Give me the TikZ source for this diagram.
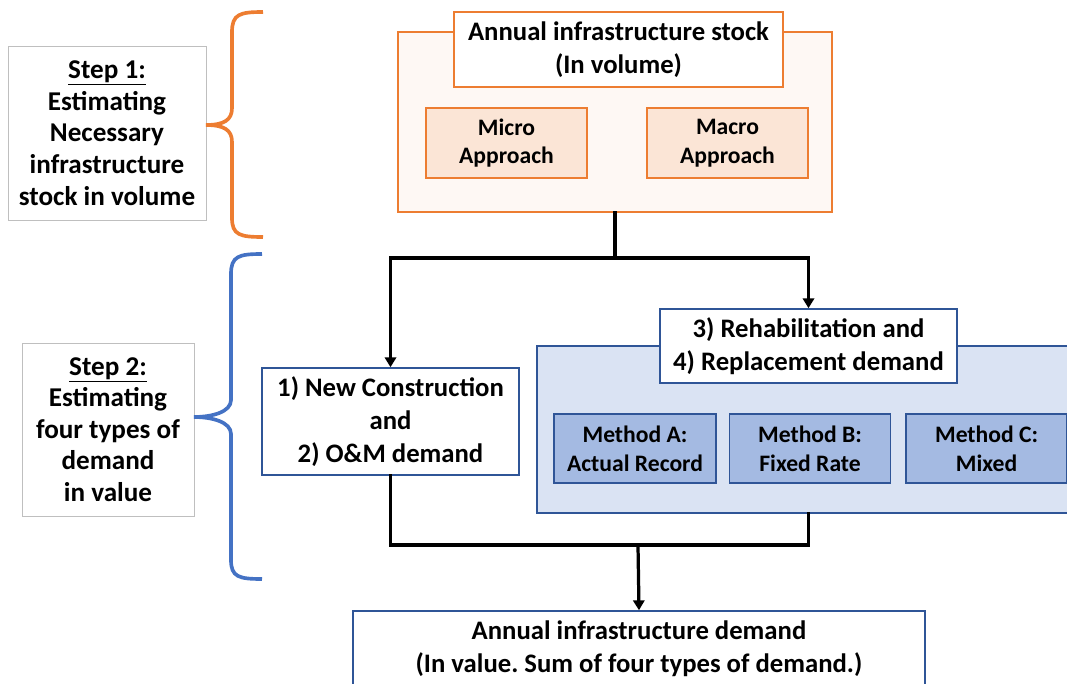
\documentclass[tikz,border=0pt]{standalone}
\usepackage{fontspec}
\setmainfont{Carlito}
\usetikzlibrary{positioning,arrows.meta}

\definecolor{stockline}{HTML}{ED7D31}
\definecolor{stockfill}{HTML}{FEF8F4}
\definecolor{approachfill}{HTML}{FBE5D6}
\definecolor{demandline}{HTML}{2F5597}
\definecolor{demandfill}{HTML}{DAE3F3}
\definecolor{methodfill}{HTML}{A4BAE2}
\definecolor{braceblue}{HTML}{4472C4}

\newcommand\pxl{0.025cm}
\frenchspacing

\tikzset{
  bigtext/.style={font=\bfseries\fontsize{19}{23.5}\selectfont},
  smalltext/.style={font=\bfseries\fontsize{16.8}{20.5}\selectfont},
  stepbox/.style={draw=black!25, line width=0.7pt, fill=white, align=center,
    inner sep=0pt, font=\bfseries\fontsize{19.3}{22.5}\selectfont},
  orangebox/.style={draw=stockline, line width=1.3pt, align=center, inner sep=0pt},
  bluebox/.style={draw=demandline, line width=1.1pt, align=center, inner sep=0pt},
  flow/.style={line width=2.3pt, line cap=rect},
  flowarrow/.style={flow, -{Triangle[width=8pt,length=7pt]}},
}

\begin{document}
\begin{tikzpicture}[x=\pxl, y=-\pxl]
  \useasboundingbox (0,0) rectangle (1067,684);
  \clip (0,0) rectangle (1067,684);

  % step labels on the left
  \node[stepbox, minimum width=198*\pxl, minimum height=174*\pxl] (step1) at (107,133)
    {\underline{Step 1:}\\Estimating\\Necessary\\infrastructure\\stock in volume};
  \node[stepbox, minimum width=172*\pxl, minimum height=173*\pxl] (step2) at (108,429.5)
    {\underline{Step 2:}\\Estimating\\four types of\\demand\\in value};

  % braces
  \coordinate (tip1) at (206,125);
  \coordinate (tip2) at (194,417);
  \draw[stockline, line width=2.6pt]
    (263,12) .. controls (240,12) and (232,14) .. (232,32) -- (232,108)
    .. controls (232,120) and (224,125) .. (tip1)
    .. controls (224,125) and (232,130) .. (232,142) -- (232,218)
    .. controls (232,235) and (240,237) .. (263,237);
  \draw[braceblue, line width=2.6pt]
    (262,254) .. controls (239,254) and (231,256) .. (231,274) -- (231,400)
    .. controls (231,412) and (212,417) .. (tip2)
    .. controls (212,417) and (231,422) .. (231,434) -- (231,560)
    .. controls (231,577) and (239,579) .. (262,579);

  % step 1: infrastructure stock
  \node[orangebox, fill=stockfill, minimum width=434*\pxl, minimum height=180*\pxl] (stockbg) at (615,122) {};
  \node[orangebox, fill=white, bigtext, minimum width=329*\pxl, minimum height=75*\pxl] (stock) at (618.5,49.5)
    {Annual infrastructure stock\\(In volume)};
  \node[orangebox, line width=1.1pt, fill=approachfill, smalltext, minimum width=161*\pxl, minimum height=70*\pxl] (micro) at (506.5,143)
    {Micro\\Approach};
  \node[orangebox, line width=1.1pt, fill=approachfill, smalltext, minimum width=161*\pxl, minimum height=70*\pxl] (macro) at (727.5,143)
    {Macro\\Approach};

  % step 2: four types of demand
  \node[bluebox, fill=white, bigtext, minimum width=257*\pxl, minimum height=107*\pxl] (newcon) at (390.5,421.5)
    {1) New Construction\\and\\2) O\&M demand};
  \node[bluebox, fill=demandfill, minimum width=540*\pxl, minimum height=167*\pxl] (rehabbg) at (807,429.5) {};
  \node[bluebox, fill=white, bigtext, minimum width=297*\pxl, minimum height=74*\pxl] (rehab) at (808.5,346)
    {3) Rehabilitation and\\4) Replacement demand};
  \node[bluebox, fill=methodfill, smalltext, minimum width=162*\pxl, minimum height=69*\pxl] (methA) at (635,448.5)
    {Method A:\\Actual Record};
  \node[bluebox, fill=methodfill, smalltext, minimum width=161*\pxl, minimum height=69*\pxl, right=12*\pxl of methA] (methB)
    {Method B:\\Fixed Rate};
  \node[bluebox, fill=methodfill, smalltext, minimum width=161*\pxl, minimum height=69*\pxl, right=14*\pxl of methB] (methC)
    {Method C:\\Mixed};

  % result
  \node[bluebox, fill=white, bigtext, minimum width=572*\pxl, minimum height=76*\pxl] (total) at (639,649)
    {Annual infrastructure demand\\(In value. Sum of four types of demand.)};

  % connectors
  \coordinate (fork) at (615,258);
  \coordinate (join) at (638,545);
  \draw[flow] (stockbg.south) -- (fork);
  \draw[flowarrow] (fork) -| (newcon.north);
  \draw[flowarrow] (fork) -| (rehab.north);
  \draw[flow] (newcon.south) |- (join);
  \draw[flow] (rehabbg.south -| rehab.south) |- (join);
  \draw[flowarrow] (join) -- (total.north);
\end{tikzpicture}
\end{document}
